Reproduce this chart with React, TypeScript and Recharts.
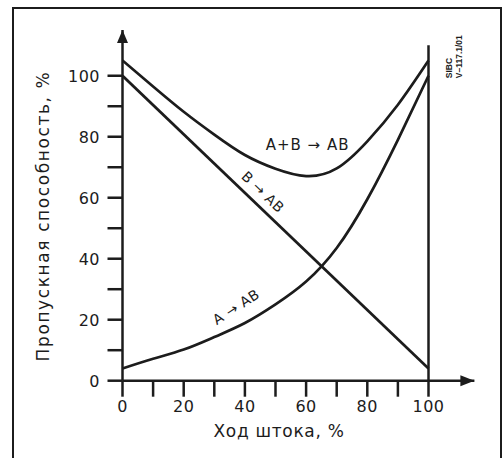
import React from "react";
import { LineChart, Line, XAxis, YAxis, ReferenceLine, ReferenceDot, Label } from "recharts";

// Stroke position, %
const strokeAB = [0, 10, 20, 30, 40, 50, 60, 70, 80, 90, 100];
// A+B -> AB flow capacity, %
const sumFlow = [105, 96.5, 88.2, 80.7, 74, 69.5, 67.1, 69.6, 78.5, 90.5, 105];
// A -> AB flow capacity, %
const aFlow = [4, 7.2, 10.2, 14.3, 18.9, 25, 32.5, 43.5, 59.5, 79, 100];
// B -> AB (straight characteristic)
const bStroke = [0, 100];
const bFlow = [100, 4];

const xTicks = [0, 10, 20, 30, 40, 50, 60, 70, 80, 90, 100];
const yTicks = [0, 10, 20, 30, 40, 50, 60, 70, 80, 90, 100];
const labeledTicks = [0, 20, 40, 60, 80, 100];

const sumData = strokeAB.map((x, i) => ({ x, y: sumFlow[i] }));
const aData = strokeAB.map((x, i) => ({ x, y: aFlow[i] }));
const bData = bStroke.map((x, i) => ({ x, y: bFlow[i] }));

const INK = "#1c1c1c";
const FONT = "'DejaVu Sans', 'Liberation Sans', sans-serif";

const XTick = (props: any) => {
  const { x, y, payload } = props;
  if (!labeledTicks.includes(payload.value)) return <g />;
  return (
    <text x={x} y={y + 13} textAnchor="middle" fontFamily={FONT} fontSize={16} letterSpacing={0.5} fill={INK}>
      {payload.value}
    </text>
  );
};

const YTick = (props: any) => {
  const { x, y, payload } = props;
  if (!labeledTicks.includes(payload.value)) return <g />;
  return (
    <text x={x - 5.5} y={y + 5.8} textAnchor="end" fontFamily={FONT} fontSize={16} letterSpacing={0.5} fill={INK}>
      {payload.value}
    </text>
  );
};

const UpArrow = (props: any) => {
  const { cx, cy } = props;
  return <polygon points={`${cx},${cy} ${cx - 5.5},${cy + 13} ${cx + 5.5},${cy + 13}`} fill={INK} />;
};

const RightArrow = (props: any) => {
  const { cx, cy } = props;
  return <polygon points={`${cx},${cy} ${cx - 14},${cy - 5.5} ${cx - 14},${cy + 5.5}`} fill={INK} />;
};

const makeText = (text: string, angle: number, size: number, spacing: number) => (props: any) => {
  const { cx, cy } = props;
  return (
    <text
      x={cx}
      y={cy}
      textAnchor="middle"
      dominantBaseline="central"
      transform={`rotate(${angle} ${cx} ${cy})`}
      fontFamily={FONT}
      fontSize={size}
      letterSpacing={spacing}
      fill={INK}
    >
      {text}
    </text>
  );
};

const CodeText = (props: any) => {
  const { cx, cy } = props;
  return (
    <g fontFamily="'Liberation Sans', Arial, sans-serif" fontWeight="bold" fontSize={8.5} fill={INK}>
      <text x={cx} y={cy} transform={`rotate(-90 ${cx} ${cy})`}>SIBC</text>
      <text x={cx + 10} y={cy} transform={`rotate(-90 ${cx + 10} ${cy})`}>V–117.1/01</text>
    </g>
  );
};

export default function App() {
  return (
    <div style={{ position: "absolute", left: 0, top: 0, width: 504, height: 458, overflow: "hidden", background: "#fff" }}>
      <div
        style={{
          position: "absolute",
          left: 12,
          top: 7,
          width: 490,
          height: 480,
          border: `2.5px solid ${INK}`,
          boxSizing: "border-box",
        }}
      />
      <div style={{ position: "absolute", left: 0, top: 0 }}>
        <LineChart width={504} height={458} margin={{ top: 30, right: 29.6, bottom: 47.3, left: 92.5 }}>
          <XAxis
            type="number"
            dataKey="x"
            domain={[0, 115]}
            ticks={xTicks}
            interval={0}
            height={30}
            tickSize={16}
            tickMargin={2}
            axisLine={{ stroke: INK, strokeWidth: 2.5 }}
            tickLine={{ stroke: INK, strokeWidth: 2.5 }}
            tick={<XTick />}
            allowDataOverflow
          >
            <Label
              content={() => (
                <text x={279} y={437} textAnchor="middle" fontFamily={FONT} fontSize={17} letterSpacing={0.7} fill={INK}>
                  Ход штока, %
                </text>
              )}
            />
          </XAxis>
          <YAxis
            type="number"
            domain={[0, 115]}
            ticks={yTicks}
            interval={0}
            width={30}
            tickSize={15}
            tickMargin={2}
            axisLine={{ stroke: INK, strokeWidth: 2.5 }}
            tickLine={{ stroke: INK, strokeWidth: 2.5 }}
            tick={<YTick />}
            allowDataOverflow
          >
            <Label
              content={() => (
                <text
                  x={49}
                  y={216}
                  textAnchor="middle"
                  transform="rotate(-90 49 216)"
                  fontFamily={FONT}
                  fontSize={17}
                  letterSpacing={1.6}
                  fill={INK}
                >
                  Пропускная способность, %
                </text>
              )}
            />
          </YAxis>
          <ReferenceLine
            segment={[{ x: 100, y: 0 }, { x: 100, y: 110 }]}
            stroke={INK}
            strokeWidth={2.5}
            ifOverflow="visible"
          />
          <Line data={sumData} dataKey="y" type="natural" stroke={INK} strokeWidth={2.7} dot={false} isAnimationActive={false} />
          <Line data={aData} dataKey="y" type="natural" stroke={INK} strokeWidth={2.7} dot={false} isAnimationActive={false} />
          <Line data={bData} dataKey="y" type="linear" stroke={INK} strokeWidth={2.7} dot={false} isAnimationActive={false} />
          <ReferenceDot x={0} y={115} r={0} ifOverflow="visible" shape={<UpArrow />} />
          <ReferenceDot x={115} y={0} r={0} ifOverflow="visible" shape={<RightArrow />} />
          <ReferenceDot x={60.5} y={77.4} r={0} ifOverflow="visible" shape={makeText("A+B → AB", 0, 15, 1)} />
          <ReferenceDot x={45.9} y={61.9} r={0} ifOverflow="visible" shape={makeText("B → AB", 43.7, 14, 0.5)} />
          <ReferenceDot x={37.1} y={24.2} r={0} ifOverflow="visible" shape={makeText("A → AB", -33, 14, 0.5)} />
          <ReferenceDot x={107.6} y={99.2} r={0} ifOverflow="visible" shape={<CodeText />} />
        </LineChart>
      </div>
    </div>
  );
}
